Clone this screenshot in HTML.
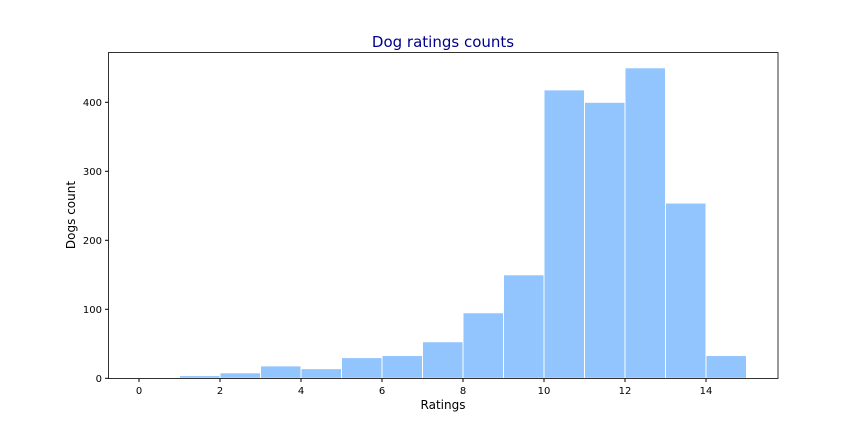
<!DOCTYPE html>
<html><head><meta charset="utf-8"><style>
body{margin:0;background:#fff;font-family:"Liberation Sans","DejaVu Sans",sans-serif;}
svg text{font-family:"DejaVu Sans","Liberation Sans",sans-serif;}
</style></head><body>
<svg width="864" height="432" id="c">
<rect width="864" height="432" fill="#fff"/>
<text x="443" y="47" text-anchor="middle" font-size="15" fill="#00008b">Dog ratings counts</text>
<g id="bars"></g><g id="ticks"></g>
<rect x="108.5" y="52.5" width="669.5" height="326" fill="none" stroke="#000" stroke-width="0.8"/>
<text x="443" y="409" text-anchor="middle" font-size="12">Ratings</text>
<text transform="translate(75,215) rotate(-90)" text-anchor="middle" font-size="12">Dogs count</text>
</svg>
<script>
const binStarts=[0,1,2,3,4,5,6,7,8,9,10,11,12,13,14];
const counts=[0,4,8,18,14,30,33,53,95,150,418,400,450,254,33];
const xTicks=[0,2,4,6,8,10,12,14];
const yTicks=[0,100,200,300,400];
const NS="http://www.w3.org/2000/svg";
function X(v){return 139+v*40.5;}
function Y(v){return 378.3-v*0.69;}
const bars=document.getElementById('bars'),ticks=document.getElementById('ticks');
binStarts.forEach((b,i)=>{
 if(counts[i]<=0)return;
 const r=document.createElementNS(NS,'rect');
 r.setAttribute('x',X(b));r.setAttribute('width',X(b+1)-X(b));
 r.setAttribute('y',Y(counts[i]));r.setAttribute('height',Y(0)-Y(counts[i]));
 r.setAttribute('fill','#92c5fd');r.setAttribute('stroke','#fff');r.setAttribute('stroke-width','1');
 
 
 bars.appendChild(r);
});
xTicks.forEach(t=>{
 const l=document.createElementNS(NS,'line');
 l.setAttribute('x1',X(t));l.setAttribute('x2',X(t));l.setAttribute('y1',378.5);l.setAttribute('y2',382);l.setAttribute('stroke','#000');
 
 
 ticks.appendChild(l);
 const tx=document.createElementNS(NS,'text');
 tx.setAttribute('x',X(t));tx.setAttribute('y',394);tx.setAttribute('text-anchor','middle');tx.setAttribute('font-size','10');
 tx.textContent=t;
 
 
 ticks.appendChild(tx);
});
yTicks.forEach(t=>{
 const l=document.createElementNS(NS,'line');
 l.setAttribute('x1',105);l.setAttribute('x2',108.5);l.setAttribute('y1',Y(t));l.setAttribute('y2',Y(t));l.setAttribute('stroke','#000');
 
 
 ticks.appendChild(l);
 const tx=document.createElementNS(NS,'text');
 tx.setAttribute('x',102);tx.setAttribute('y',Y(t)+3.5);tx.setAttribute('text-anchor','end');tx.setAttribute('font-size','10');
 tx.textContent=t;
 
 
 ticks.appendChild(tx);
});
</script>
</body></html>
